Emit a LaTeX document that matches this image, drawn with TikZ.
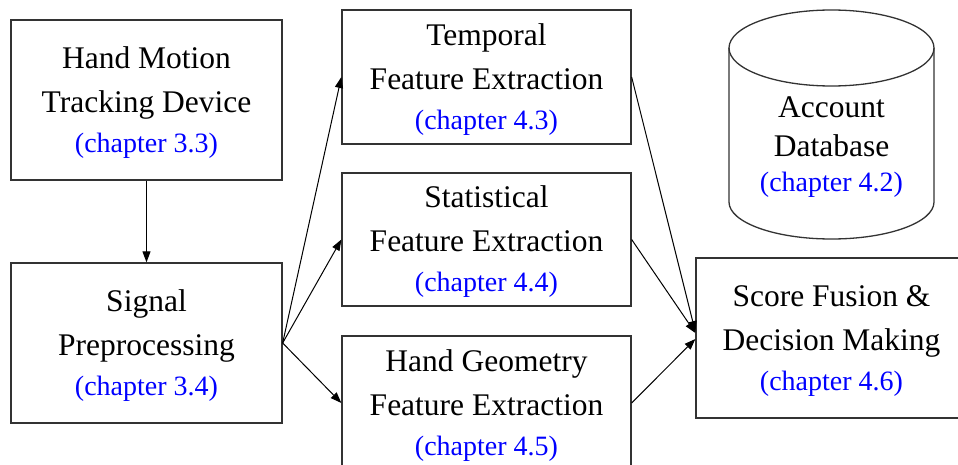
\documentclass[tikz,border=0pt]{standalone}
\usepackage{fontspec}
\setmainfont{Liberation Serif}
\usetikzlibrary{arrows.meta,calc}
\definecolor{edgegray}{HTML}{333333}
\tikzset{
  box/.style={draw=edgegray, line width=1.3pt, rectangle, inner sep=0pt, align=center,
    font=\fontsize{31.5}{44}\selectfont},
  conn/.style={draw=black, line width=1pt, -{Triangle[length=11pt,width=8pt]}},
}
\newcommand{\firststrut}{\rule{0pt}{26.5pt}}
\newcommand{\chap}[1]{\\[-4pt]{\fontsize{28}{40}\selectfont\color{blue}(chapter #1)}}
\begin{document}
\begin{tikzpicture}[x=1pt,y=-1pt]
\useasboundingbox (0,0) rectangle (958,465);
\clip (0,0) rectangle (958,465);
\fill[white] (0,0) rectangle (958,465);

\node[box, minimum width=271pt, minimum height=160pt] (dev) at (146.5,100)
  {\firststrut Hand Motion\\Tracking Device\chap{3.3}};
\node[box, minimum width=271pt, minimum height=160pt] (pre) at (146.5,343)
  {\firststrut Signal\\Preprocessing\chap{3.4}};
\node[box, minimum width=289pt, minimum height=134pt] (tem) at (486.5,77)
  {\firststrut Temporal\\Feature Extraction\chap{4.3}};
\node[box, minimum width=289pt, minimum height=133pt] (sta) at (486.5,239.5)
  {\firststrut Statistical\\Feature Extraction\chap{4.4}};
\node[box, minimum width=289pt, minimum height=134pt] (geo) at (486.5,403)
  {\firststrut Hand Geometry\\Feature Extraction\chap{4.5}};
\node[box, minimum width=271pt, minimum height=160pt] (fus) at (831.5,338)
  {\firststrut Score Fusion \&\\Decision Making\chap{4.6}};

% database cylinder
\draw[edgegray, line width=1.3pt]
  (729,48) -- (729,202) arc[start angle=180, end angle=360, x radius=102.5pt, y radius=37pt]
  -- (934,48);
\draw[edgegray, line width=1.3pt] (831.5,48) ellipse[x radius=102.5pt, y radius=38pt];
\node[align=center, inner sep=0pt, font=\fontsize{31.5}{39}\selectfont] (db) at (831.5,147)
  {Account\\Database\\[-4pt]{\fontsize{28}{40}\selectfont\color{blue}(chapter 4.2)}};

\draw[conn] (dev.south) -- (pre.north);
\draw[conn] (pre.east) -- (tem.west);
\draw[conn] (pre.east) -- (sta.west);
\draw[conn] (pre.east) -- (geo.west);
\draw[conn] (tem.east) -- ($(fus.west)+(0,-6)$);
\draw[conn] (sta.east) -- ($(fus.west)+(0,-5)$);
\draw[conn] (geo.east) -- ($(fus.west)+(0,1)$);
\end{tikzpicture}
\end{document}
